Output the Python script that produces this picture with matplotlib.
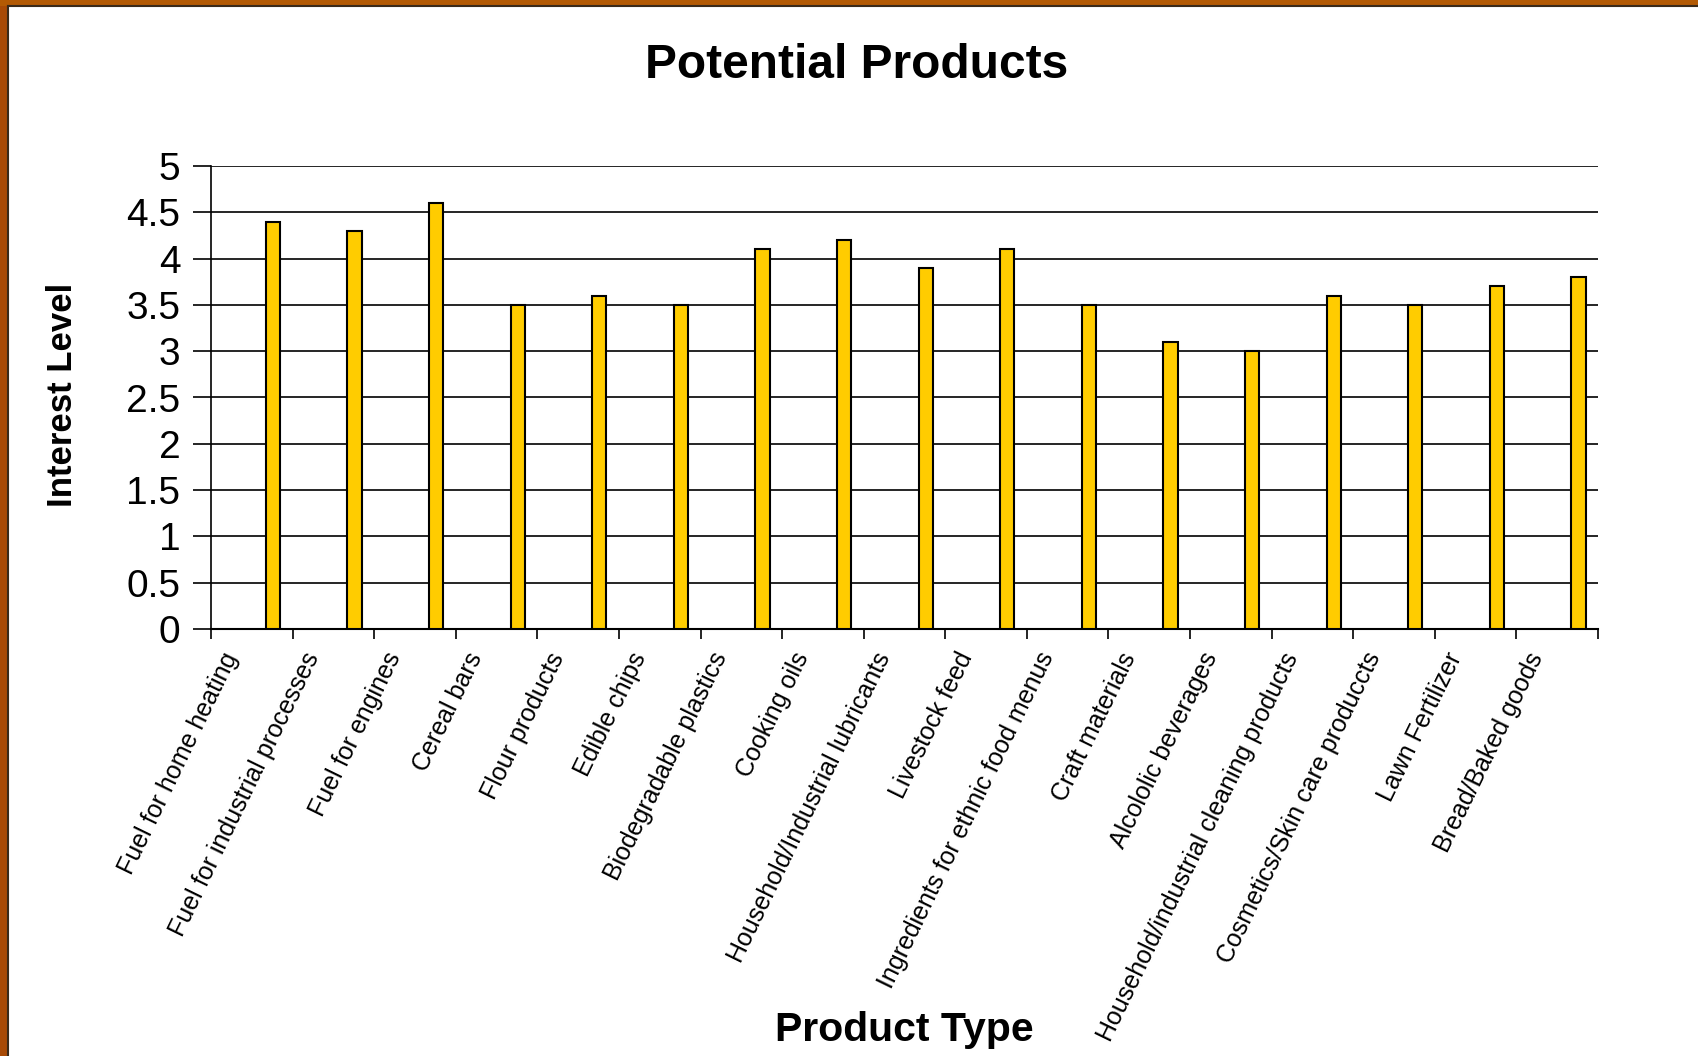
import matplotlib
matplotlib.use('Agg')
import matplotlib.pyplot as plt
import matplotlib.transforms as mtransforms
from matplotlib.patches import Rectangle
import numpy as np

plt.rcParams['font.family'] = ['Liberation Sans', 'DejaVu Sans']

products = ['Fuel for home heating', 'Fuel for industrial processes', 'Fuel for engines',
            'Cereal bars', 'Flour products', 'Edible chips', 'Biodegradable plastics',
            'Cooking oils', 'Household/Industrial lubricants', 'Livestock feed',
            'Ingredients for ethnic food menus', 'Craft materials', 'Alcololic beverages',
            'Household/industrial cleaning products', 'Cosmetics/Skin care produccts',
            'Lawn Fertilizer', 'Bread/Baked goods']
interest = [4.4, 4.3, 4.6, 3.5, 3.6, 3.5, 4.1, 4.2, 3.9, 4.1, 3.5, 3.1, 3.0, 3.6, 3.5, 3.7, 3.8]
yticks = [0, 0.5, 1, 1.5, 2, 2.5, 3, 3.5, 4, 4.5, 5]

W, H = 1698, 1056
fig = plt.figure(figsize=(W / 100, H / 100), dpi=100, facecolor='white')

# orange slide frame on the left and top
fig.patches.append(Rectangle((0, 0), 8 / W, 1, transform=fig.transFigure,
                             facecolor='#a84a06', edgecolor='none', zorder=0))
fig.patches.append(Rectangle((0, 1 - 6 / H), 1, 6 / H, transform=fig.transFigure,
                             facecolor='#b35a04', edgecolor='none', zorder=0))
fig.add_artist(plt.Line2D([8 / W, 8 / W], [0, 1 - 6 / H], transform=fig.transFigure,
                          color='#3a2a1a', lw=1.5))
fig.add_artist(plt.Line2D([8 / W, 1], [1 - 6 / H, 1 - 6 / H], transform=fig.transFigure,
                          color='#3a2a1a', lw=1.5))

ax = fig.add_axes([211 / W, 1 - 629 / H, (1598 - 211) / W, (629 - 166) / H])

x = np.arange(len(products))
ax.bar(x + 0.26, interest, width=0.175, color='#ffcc00', edgecolor='black',
       linewidth=1.5, zorder=3)

ax.set_xlim(-0.5, len(products) - 0.5)
ax.set_ylim(0, 5)
ax.set_yticks(yticks)
ax.set_yticklabels(['%g' % v for v in yticks])
ax.yaxis.grid(True, color='black', linewidth=1.2, zorder=0)
ax.set_axisbelow(True)

ax.set_xticks(x)
ax.set_xticklabels(products, rotation=64, ha='right', va='top', fontsize=18)
ax.set_xticks(np.arange(-0.5, len(products)), minor=True)
ax.tick_params(axis='x', which='major', length=0, pad=14)
ax.tick_params(axis='x', which='minor', length=7, width=1.2, direction='out')
ax.tick_params(axis='y', length=13, width=1.2, direction='out', labelsize=28, pad=9)

# nudge the slanted labels a little to the left
shift = mtransforms.ScaledTranslation(-0.09, 0, fig.dpi_scale_trans)
for lab in ax.get_xticklabels():
    lab.set_transform(lab.get_transform() + shift)

for s in ['top', 'right']:
    ax.spines[s].set_visible(False)
ax.spines['left'].set_linewidth(1.2)
ax.spines['bottom'].set_linewidth(1.5)

fig.text(857 / W, 1 - 66 / H, 'Potential Products', ha='center', va='center',
         fontsize=34.5, fontweight='bold')
fig.text(62 / W, 1 - 395 / H, 'Interest Level', ha='center', va='center',
         rotation=90, fontsize=25, fontweight='bold')
fig.text(904 / W, 1 - 1030 / H, 'Product Type', ha='center', va='center',
         fontsize=29.5, fontweight='bold')

fig.savefig('out.png', dpi=100, facecolor=fig.get_facecolor())
